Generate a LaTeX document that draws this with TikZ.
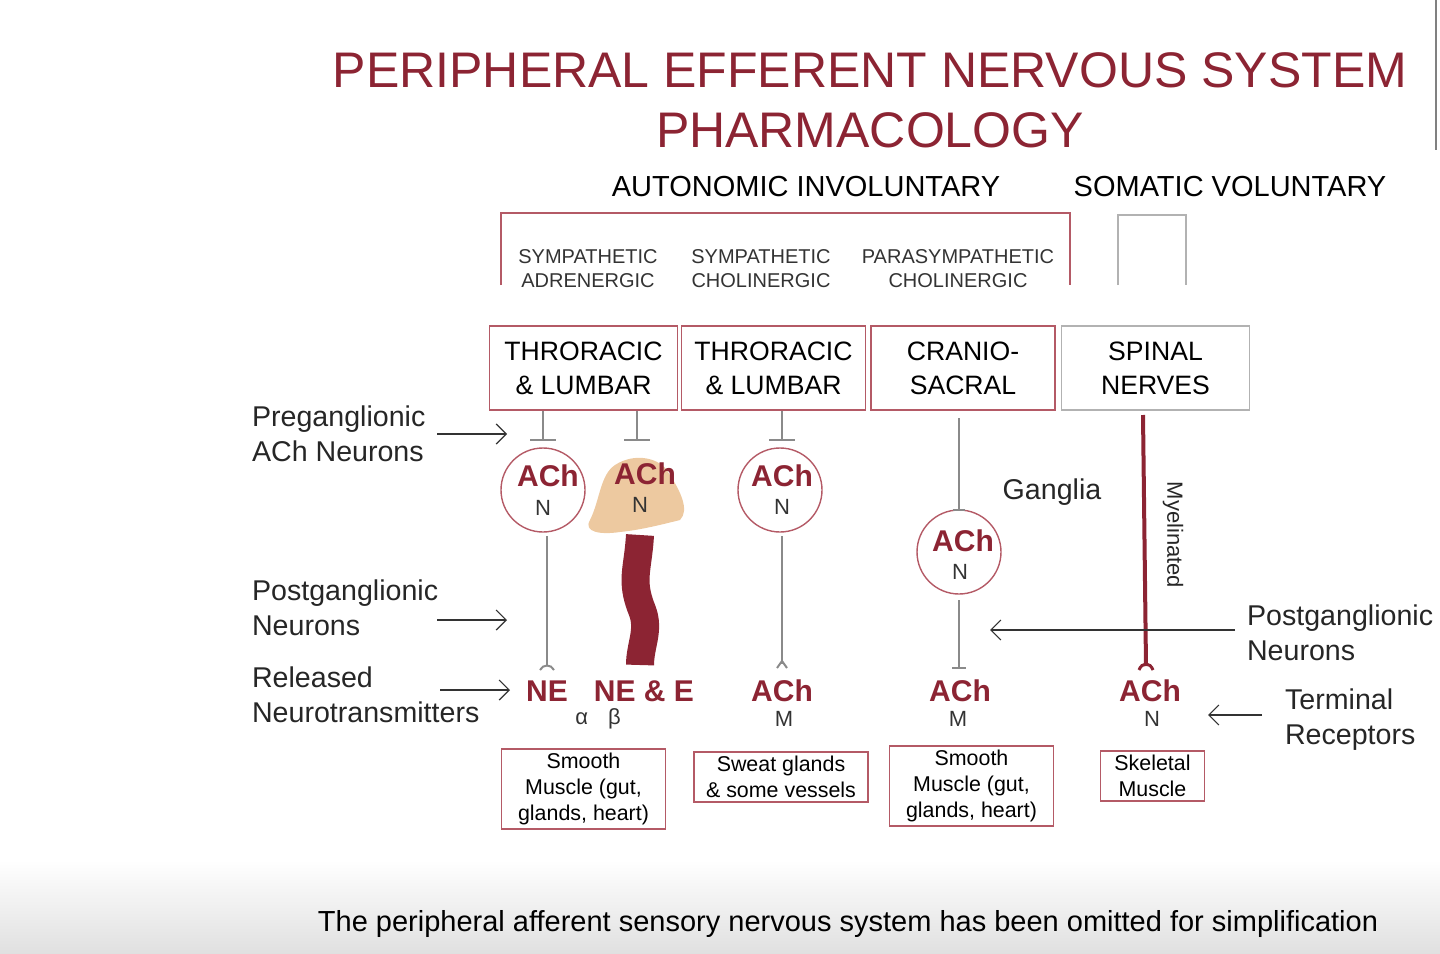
\documentclass[tikz,border=0pt]{standalone}
\usepackage{fontspec}
\setmainfont{Liberation Sans}
\usetikzlibrary{arrows.meta,decorations.pathmorphing}
\definecolor{dred}{HTML}{8C2433}
\definecolor{bred}{HTML}{B45A66}
\definecolor{lgray}{HTML}{8A8A8A}
\definecolor{tan}{HTML}{EDC9A0}
\tikzset{
 ttl/.style={text=dred,font=\fontsize{25}{28}\selectfont},
 hdr/.style={font=\fontsize{14.5}{16}\selectfont},
 sm/.style={font=\fontsize{10}{12}\selectfont,align=center,text=black!80},
 rbox/.style={draw=bred,line width=0.8pt,minimum height=42pt,align=center,font=\fontsize{13.3}{17}\selectfont,inner sep=0pt},
 circ/.style={circle,draw=bred,line width=0.7pt,minimum size=42pt,inner sep=0pt,align=center},
 nt/.style={text=dred,font=\bfseries\fontsize{15}{16}\selectfont},
 sub/.style={font=\fontsize{11}{12}\selectfont,text=black!80},
 lab/.style={font=\fontsize{14.3}{17.5}\selectfont,align=left,text=black!85},
 obox/.style={draw=bred,line width=0.7pt,align=center,font=\fontsize{10.7}{13}\selectfont,inner sep=2pt},
 gl/.style={draw=lgray,line width=1pt},
 arr/.style={draw=black!80,line width=0.6pt,-{Straight Barb[length=5pt]}},
}
\begin{document}
\begin{tikzpicture}[x=0.5pt,y=-0.5pt]
\useasboundingbox (0,0) rectangle (1440,953);
\shade[top color=white,bottom color=black!12] (0,860) rectangle (1440,953);
\draw[black!50,line width=1pt] (1436,0) -- (1436,150);
\node[ttl] (t1) at (870,70) {PERIPHERAL EFFERENT NERVOUS SYSTEM};
\node[ttl] (t2) at (870,130) {PHARMACOLOGY};
\node[hdr] (auto) at (806,187) {AUTONOMIC INVOLUNTARY};
\node[hdr] (soma) at (1230,187) {SOMATIC VOLUNTARY};
\draw[bred,line width=0.8pt] (501,285) -- (501,213) -- (1070,213) -- (1070,285);
\draw[black!30,line width=0.8pt] (1118,285) -- (1118,215) -- (1186,215) -- (1186,285);
\node[sm] (s1) at (588,269) {SYMPATHETIC\\ADRENERGIC};
\node[sm] (s2) at (761,269) {SYMPATHETIC\\CHOLINERGIC};
\node[sm] (s3) at (958,269) {PARASYMPATHETIC\\CHOLINERGIC};
\node[rbox,minimum width=94pt] (b1) at (583.5,368) {THRORACIC\\\& LUMBAR};
\node[rbox,minimum width=92pt] (b2) at (773.5,368) {THRORACIC\\\& LUMBAR};
\node[rbox,minimum width=92pt] (b3) at (963,368) {CRANIO-\\SACRAL};
\node[rbox,draw=black!30,minimum width=94pt] (b4) at (1155.5,368) {SPINAL\\NERVES};
% ganglia
\node[circ] (g1) at (543,490) {};
\node[nt] at (548,476) {ACh};\node[sub] at (543,508) {N};
\fill[tan] (590,520) .. controls (600,500) and (600,475) .. (615,465) .. controls (635,452) and (660,458) .. (668,472) .. controls (680,490) and (690,510) .. (680,520) .. controls (660,525) and (640,530) .. (620,532) .. controls (600,535) and (583,532) .. (590,520) -- cycle;
\node (g2) at (640,495) {};
\node[nt] at (645,474) {ACh};\node[sub] at (640,505) {N};
\node[circ] (g3) at (780,490) {};
\node[nt] at (782,476) {ACh};\node[sub] at (782,507) {N};
\node[circ] (g4) at (959,552) {};
\node[nt] at (963,541) {ACh};\node[sub] at (960,572) {N};
% preganglionic lines
\coordinate (p1) at (543,440);\coordinate (p2) at (637,440);\coordinate (p3) at (782,440);
\draw[gl] (b1.south -| p1) -- (p1); \draw[gl] (530,440) -- (556,440);
\draw[gl] (b1.south -| p2) -- (p2); \draw[gl] (624,440) -- (650,440);
\draw[gl] (b2.south -| p3) -- (p3); \draw[gl] (769,440) -- (795,440);
\draw[gl] (959,418) -- (g4.north); \draw[gl] (953,510) -- (965,510);
% postganglionic
\node[nt] (ne) at (547,691) {NE};
\node[nt] (nee) at (644,691) {NE \& E};
\node[nt] (a3) at (782,691) {ACh};
\node[nt] (a4) at (960,691) {ACh};
\node[nt] (a5) at (1150,691) {ACh};
\node[sub] (ab) at (598,719) {α\hspace{10pt}β};
\node[sub] (m1) at (784,719) {M};
\node[sub] (m2) at (958,719) {M};
\node[sub] (n5) at (1152,719) {N};
\draw[gl] (547,536) -- (547,666); \draw[gl] (540,670) .. controls (543,664) and (551,664) .. (554,670);
\draw[gl] (782,536) -- (782,664); \draw[gl] (777,668) -- (782,661) -- (787,668);
\draw[gl] (959,600) -- (959,668); \draw[gl] (952,668) -- (966,668);
\draw[dred,line width=14pt] (640,535) .. controls (638,570) and (630,580) .. (642,610) .. controls (650,630) and (640,645) .. (640,665);
\draw[dred,line width=2pt] (1143,415) -- (1146,666);
\draw[dred,line width=1.5pt] (1139,670) .. controls (1142,662) and (1150,662) .. (1153,670);
% organs
\node[obox,minimum width=82pt] (o1) at (583.5,789) {Smooth\\Muscle (gut,\\glands, heart)};
\node[obox,minimum width=87pt] (o2) at (781,777) {Sweat glands\\\& some vessels};
\node[obox,minimum width=82pt] (o3) at (971.5,786) {Smooth\\Muscle (gut,\\glands, heart)};
\node[obox,minimum width=52pt] (o4) at (1152.5,776) {Skeletal\\Muscle};
% left labels
\node[lab,anchor=west] (l1) at (245,434) {Preganglionic\\ACh Neurons};
\node[lab,anchor=west] (l2) at (245,608) {Postganglionic\\Neurons};
\node[lab,anchor=west] (l3) at (245,695) {Released\\Neurotransmitters};
\coordinate (e1) at (507,434);\coordinate (e2) at (507,620);\coordinate (e3) at (510,690);
\draw[arr] (437,434) -- (e1);
\draw[arr] (437,620) -- (e2);
\draw[arr] (440,690) -- (e3);
\node[lab] (gang) at (1052,492) {Ganglia};
\node[lab,rotate=-90,font=\fontsize{11}{12}\selectfont] (my) at (1173,535) {Myelinated};
\node[lab,anchor=west] (r1) at (1240,633) {Postganglionic\\Neurons};
\node[lab,anchor=west] (r2) at (1278,720) {Terminal\\Receptors};
\coordinate (e4) at (990,630);\coordinate (e5) at (1208,715);
\draw[arr] (1235,630) -- (e4);
\draw[arr] (1262,715) -- (e5);
\node[font=\fontsize{14.5}{15}\selectfont] (foot) at (848,924) {The peripheral afferent sensory nervous system has been omitted for simplification};
\end{tikzpicture}
\end{document}
